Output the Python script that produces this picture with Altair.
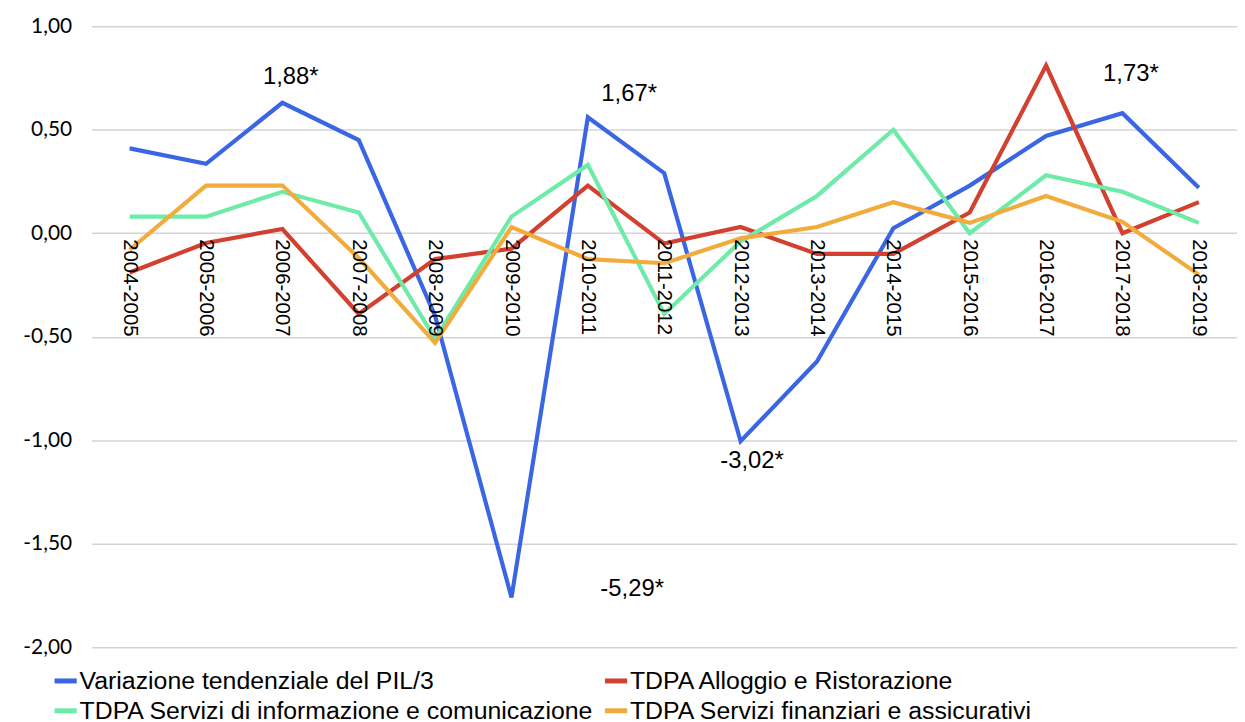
import altair as alt
import pandas as pd

categories = ["2004-2005", "2005-2006", "2006-2007", "2007-2008", "2008-2009",
              "2009-2010", "2010-2011", "2011-2012", "2012-2013", "2013-2014",
              "2014-2015", "2015-2016", "2016-2017", "2017-2018", "2018-2019"]

series_names = ["Variazione tendenziale del PIL/3",
                "TDPA Alloggio e Ristorazione",
                "TDPA Servizi di informazione e comunicazione",
                "TDPA Servizi finanziari e assicurativi"]
series_colors = ["#3a66e4", "#d2402f", "#6eeaa9", "#f2ac3e"]

pil = [0.41, 0.335, 0.63, 0.45, -0.40, -1.76, 0.56, 0.29, -1.005, -0.62,
       0.024, 0.23, 0.47, 0.58, 0.22]
alloggio = [-0.19, -0.047, 0.02, -0.39, -0.125, -0.075, 0.23, -0.05, 0.03, -0.10,
            -0.10, 0.10, 0.81, 0.00, 0.15]
informazione = [0.08, 0.08, 0.20, 0.10, -0.51, 0.08, 0.33, -0.39, -0.04, 0.18,
                0.50, 0.00, 0.28, 0.20, 0.05]
finanziari = [-0.08, 0.23, 0.23, -0.12, -0.53, 0.03, -0.125, -0.145, -0.025, 0.03,
              0.15, 0.05, 0.18, 0.055, -0.20]

ann_text = ["1,88*", "1,67*", "-3,02*", "-5,29*", "1,73*"]
ann_x = [2.11, 6.54, 8.15, 6.58, 13.11]
ann_y = [0.755, 0.67, -1.10, -1.72, 0.77]

rows = []
for name, vals in zip(series_names, [pil, alloggio, informazione, finanziari]):
    for i, v in enumerate(vals):
        rows.append({"idx": i, "cat": categories[i], "serie": name, "valore": v})
df = pd.DataFrame(rows)
df_cat = pd.DataFrame({"idx": list(range(len(categories))), "cat": categories, "zero": [0.0] * len(categories)})
df_ann = pd.DataFrame({"x": ann_x, "y": ann_y, "t": ann_text})

xscale = alt.Scale(domain=[-0.5, 14.5], nice=False, zero=False)
yscale = alt.Scale(domain=[-2, 1], nice=False)

lines = alt.Chart(df).mark_line(strokeWidth=4.2).encode(
    x=alt.X("idx:Q", scale=xscale, axis=None),
    y=alt.Y("valore:Q", scale=yscale, title=None,
            axis=alt.Axis(values=[-2, -1.5, -1, -0.5, 0, 0.5, 1],
                          labelExpr="(datum.value < 0 ? '-' : '') + replace(format(abs(datum.value), '.2f'), '.', ',')",
                          domain=False, ticks=False, labelPadding=20,
                          labelFont="Lato", labelFontSize=21, labelColor="#000000",
                          grid=True, gridColor="#d4d4d4", gridWidth=1.5)),
    color=alt.Color("serie:N", scale=alt.Scale(domain=series_names, range=series_colors),
                    legend=alt.Legend(title=None, orient="none", legendX=-40, legendY=645,
                                      direction="horizontal", columns=2, columnPadding=0,
                                      rowPadding=3, symbolType="stroke", symbolStrokeWidth=5,
                                      symbolSize=500, labelFont="Liberation Sans",
                                      labelFontSize=25, labelColor="#000000", labelOffset=0,
                                      labelLimit=0)),
    order=alt.Order("idx:Q"),
)

cat_labels = alt.Chart(df_cat).mark_text(angle=90, align="left", baseline="middle", dx=6,
                                          font="Liberation Sans", fontSize=20.5, color="#000000").encode(
    x=alt.X("idx:Q", scale=xscale),
    y=alt.Y("zero:Q", scale=yscale),
    text="cat:N",
)

ann = alt.Chart(df_ann).mark_text(align="center", baseline="middle",
                                   font="Liberation Sans", fontSize=24, color="#000000").encode(
    x=alt.X("x:Q", scale=xscale),
    y=alt.Y("y:Q", scale=yscale),
    text="t:N",
)

chart = alt.layer(lines, cat_labels, ann).properties(
    width=1153, height=625,
    padding={"left": 14, "top": 5, "right": 0, "bottom": 0},
).configure_view(stroke=None)

chart.save("out.html", embed_options={"renderer": "svg", "actions": False})
